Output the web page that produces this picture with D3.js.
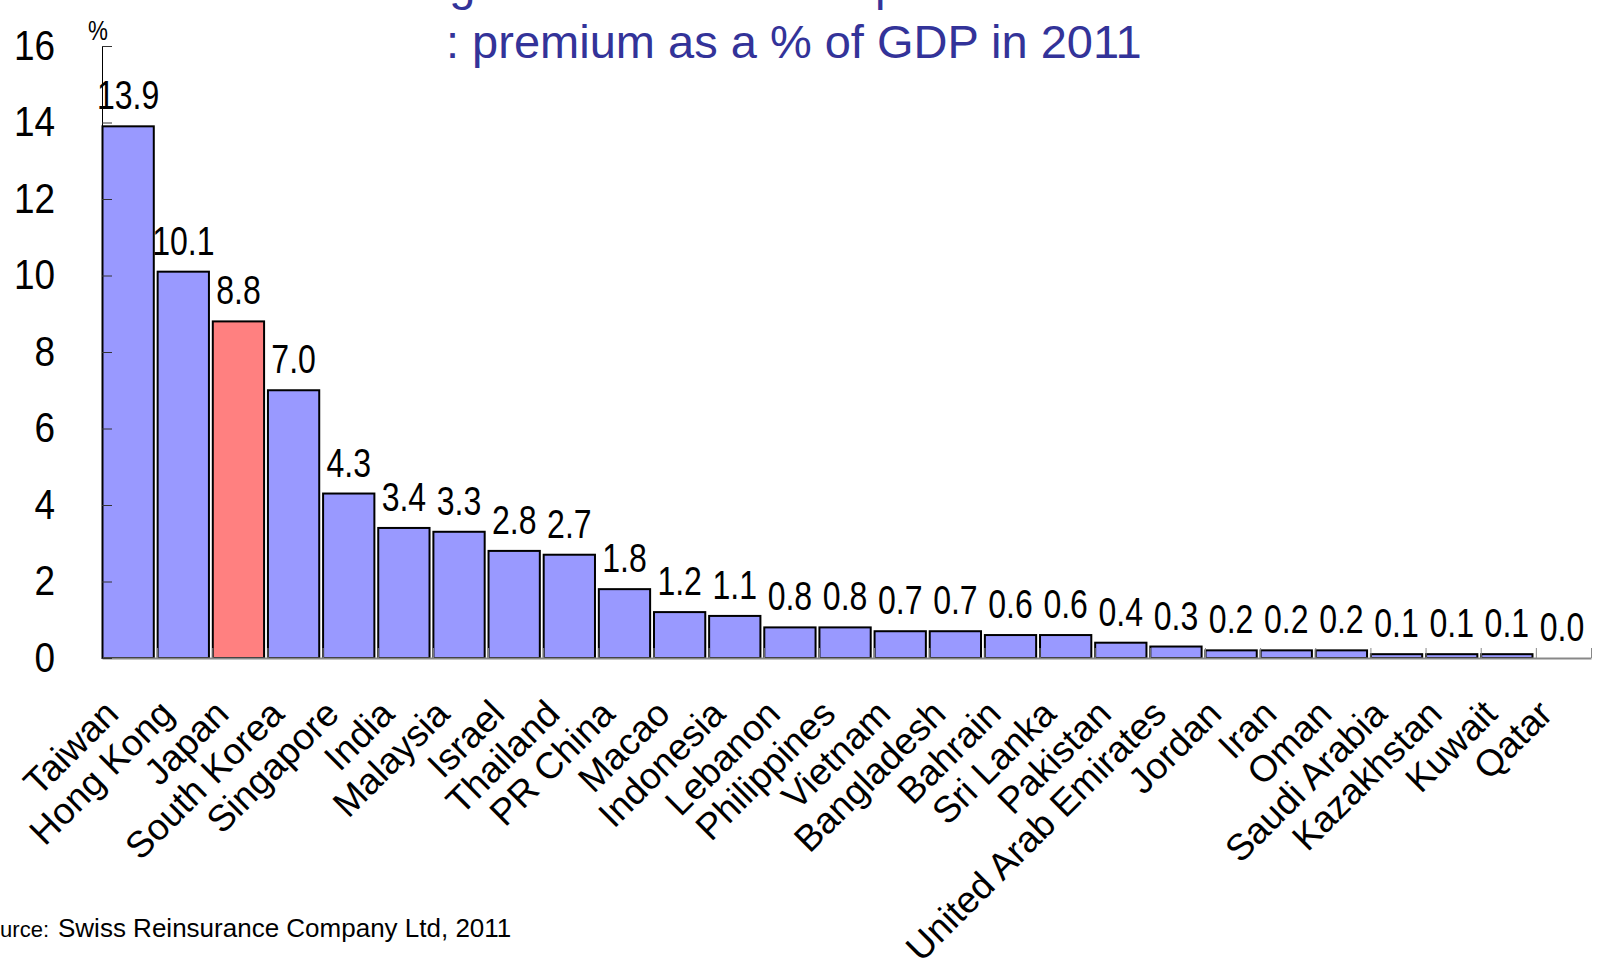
<!doctype html>
<html>
<meta charset="utf-8">
<style>
body { margin: 0; padding: 0; background: #fff; }
.narrow { font-family: 'Liberation Sans', Arial, sans-serif; }
.cat { font-family: 'Liberation Sans', Arial, sans-serif; font-size: 37px; }
.title { font-family: 'Liberation Sans', Arial, sans-serif; font-size: 47px; fill: #333399; }
.src { font-family: 'Liberation Sans', Arial, sans-serif; }
</style>
<body>
<svg width="1602" height="965"></svg>
<script src="https://cdn.jsdelivr.net/npm/d3@7"></script>
<script>

// data
var countries = ["Taiwan", "Hong Kong", "Japan", "South Korea", "Singapore", "India",
  "Malaysia", "Israel", "Thailand", "PR China", "Macao", "Indonesia", "Lebanon",
  "Philippines", "Vietnam", "Bangladesh", "Bahrain", "Sri Lanka", "Pakistan",
  "United Arab Emirates", "Jordan", "Iran", "Oman", "Saudi Arabia", "Kazakhstan",
  "Kuwait", "Qatar"];
var premium = [13.9, 10.1, 8.8, 7.0, 4.3, 3.4, 3.3, 2.8, 2.7, 1.8, 1.2, 1.1, 0.8,
  0.8, 0.7, 0.7, 0.6, 0.6, 0.4, 0.3, 0.2, 0.2, 0.2, 0.1, 0.1, 0.1, 0.0];
var yTicks = [0, 2, 4, 6, 8, 10, 12, 14, 16];
var highlight = "Japan";

var svg = d3.select("svg");

var plotLeft = 102, plotRight = 1591, plotBottom = 658, plotTop = 46;

var x = d3.scaleBand()
    .domain(countries)
    .range([plotLeft, plotRight])
    .padding(0);

var y = d3.scaleLinear()
    .domain([0, 16])
    .range([plotBottom, plotTop]);

var barW = x.bandwidth() * 0.93;

// the source uses a narrow gothic font, squeeze Arial instead
function squeeze(px, py, s) {
  return "translate(" + px + "," + py + ") scale(" + s + ",1)";
}

// title (first line is cut off by the top edge)
svg.append("text").attr("class", "title")
    .attr("x", 410).attr("y", 0)
    .text("Figure: Life insurance penetration in Asia");
svg.append("text").attr("class", "title")
    .attr("x", 446).attr("y", 58)
    .text(": premium as a % of GDP in 2011");

// bars
svg.append("g").selectAll("rect")
  .data(countries)
  .join("rect")
    .attr("x", function(d) { return x(d) + 0.5; })
    .attr("y", function(d, i) { return y(premium[i]); })
    .attr("width", barW)
    .attr("height", function(d, i) { return y(0) - y(premium[i]); })
    .attr("fill", function(d) { return d == highlight ? "#ff8080" : "#9999ff"; })
    .attr("stroke", "#000")
    .attr("stroke-width", 2);

// value labels
svg.append("g").selectAll("text")
  .data(countries)
  .join("text")
    .attr("class", "narrow")
    .attr("transform", function(d, i) {
      return squeeze(x(d) + 0.5 + barW / 2, y(premium[i]) - 17, 0.8);
    })
    .attr("text-anchor", "middle")
    .attr("font-size", 40)
    .text(function(d, i) { return premium[i].toFixed(1); });

// x axis: grey baseline with small ticks at band edges
var edge = d3.scaleLinear().domain([0, countries.length]).range([plotLeft, plotRight]);
var xAxis = svg.append("g")
    .attr("transform", "translate(0," + plotBottom + ")")
    .call(d3.axisBottom(edge)
      .tickValues(d3.range(0, countries.length + 1))
      .tickSizeInner(-10)
      .tickSizeOuter(0)
      .tickFormat(""));
xAxis.select(".domain").attr("stroke", "#888").attr("stroke-width", 2);
xAxis.selectAll(".tick line").attr("stroke", "#888");

// category labels, rotated
svg.append("g").selectAll("text")
  .data(countries)
  .join("text")
    .attr("class", "cat")
    .attr("text-anchor", "end")
    .attr("transform", function(d) {
      return "translate(" + (x(d) + x.bandwidth() / 2 - 9) + "," + (plotBottom + 58) + ") rotate(-45)";
    })
    .text(function(d) { return d; });

// y axis
var yAxis = svg.append("g")
    .attr("transform", "translate(" + plotLeft + ",0)")
    .call(d3.axisLeft(y)
      .tickValues(yTicks)
      .tickSizeInner(-10)
      .tickSizeOuter(0)
      .tickPadding(47));
yAxis.select(".domain").attr("stroke", "#000");
yAxis.selectAll(".tick line").attr("stroke", "#333");
yAxis.selectAll(".tick text")
    .attr("class", "narrow")
    .attr("x", null)
    .attr("transform", squeeze(-47, 0, 0.88))
    .attr("font-size", 42)
    .attr("fill", "#000");

svg.append("text")
    .attr("class", "narrow")
    .attr("transform", squeeze(98, 40, 0.8))
    .attr("text-anchor", "middle")
    .attr("font-size", 28)
    .text("%");

// source note (left edge cut off)
svg.append("text").attr("class", "src")
    .attr("x", 49).attr("y", 937)
    .attr("text-anchor", "end")
    .attr("font-size", 22)
    .text("Source:");
svg.append("text").attr("class", "src")
    .attr("x", 58).attr("y", 937)
    .attr("font-size", 26)
    .text("Swiss Reinsurance Company Ltd, 2011");

</script>
</body>
</html>
